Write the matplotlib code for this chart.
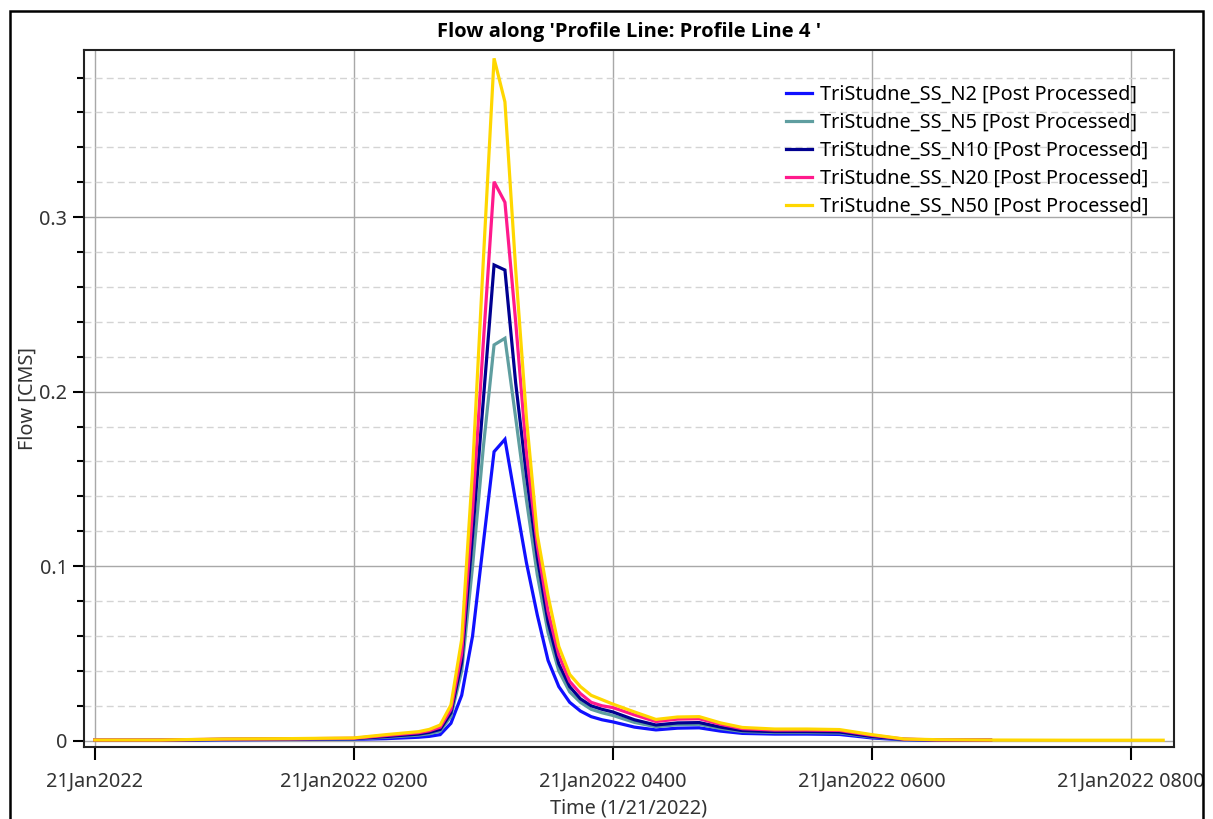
import numpy as np
import matplotlib
matplotlib.use('Agg')
import matplotlib.pyplot as plt
from matplotlib.patches import Rectangle
from matplotlib.ticker import MultipleLocator

plt.rcParams['font.family'] = ['Noto Sans', 'DejaVu Sans']

# time in hours after 21Jan2022 0000
hours = [0.0, 0.5, 1.0, 1.5, 2.0, 2.25, 2.5, 2.583, 2.667, 2.75,
         2.833, 2.917, 3.0, 3.083, 3.167, 3.25, 3.333, 3.417, 3.5, 3.583,
         3.667, 3.75, 3.833, 3.917, 4.0, 4.167, 4.333, 4.5, 4.667, 4.833,
         5.0, 5.25, 5.5, 5.75, 6.0, 6.25, 6.5, 6.917, 7.5, 8.25]

flow_n2 = [0.0002, 0.0002, 0.0005, 0.0007, 0.0008, 0.0012, 0.0020, 0.0025, 0.0035, 0.0100,
           0.026, 0.060, 0.113, 0.1656, 0.1727, 0.137, 0.102, 0.072, 0.046, 0.031,
           0.022, 0.017, 0.0138, 0.012, 0.0108, 0.0078, 0.0062, 0.0072, 0.0074, 0.0055,
           0.0042, 0.0038, 0.0038, 0.0036, 0.0016, 0.0005, 0.0003, 0.0002, np.nan, np.nan]
flow_n5 = [0.0003, 0.0003, 0.0007, 0.0009, 0.0010, 0.0020, 0.0032, 0.0040, 0.0055, 0.0140,
           0.040, 0.100, 0.168, 0.2268, 0.2306, 0.185, 0.138, 0.095, 0.062, 0.040,
           0.028, 0.022, 0.018, 0.016, 0.0145, 0.0105, 0.0080, 0.0092, 0.0094, 0.0070,
           0.0053, 0.0047, 0.0047, 0.0045, 0.0021, 0.0007, 0.0004, 0.0003, np.nan, np.nan]
flow_n10 = [0.0003, 0.0003, 0.0008, 0.0010, 0.0012, 0.0024, 0.0038, 0.0048, 0.0065, 0.0160,
            0.045, 0.118, 0.195, 0.2726, 0.2697, 0.205, 0.152, 0.105, 0.068, 0.044,
            0.031, 0.024, 0.020, 0.018, 0.0165, 0.0120, 0.0090, 0.0102, 0.0104, 0.0078,
            0.0058, 0.0052, 0.0052, 0.0050, 0.0024, 0.0008, 0.0004, 0.0003, np.nan, np.nan]
flow_n20 = [0.0004, 0.0004, 0.0009, 0.0011, 0.0014, 0.0030, 0.0046, 0.0057, 0.0078, 0.0180,
            0.050, 0.132, 0.228, 0.3203, 0.3085, 0.240, 0.165, 0.112, 0.074, 0.049,
            0.034, 0.027, 0.022, 0.020, 0.019, 0.0148, 0.0110, 0.0124, 0.0126, 0.0094,
            0.0069, 0.0061, 0.0061, 0.0059, 0.0031, 0.0009, 0.0005, 0.0004, np.nan, np.nan]
flow_n50 = [0.0004, 0.0004, 0.0010, 0.0012, 0.0016, 0.0035, 0.0052, 0.0065, 0.0090, 0.0205,
            0.058, 0.155, 0.275, 0.391, 0.366, 0.270, 0.185, 0.118, 0.083, 0.054,
            0.038, 0.031, 0.026, 0.0235, 0.021, 0.0165, 0.0122, 0.0136, 0.0138, 0.0102,
            0.0076, 0.0067, 0.0067, 0.0064, 0.0035, 0.0010, 0.0006, 0.0004, 0.0003, 0.0003]

names = ['TriStudne_SS_N2 [Post Processed]', 'TriStudne_SS_N5 [Post Processed]',
         'TriStudne_SS_N10 [Post Processed]', 'TriStudne_SS_N20 [Post Processed]',
         'TriStudne_SS_N50 [Post Processed]']
colors = ['#1010ff', '#5f9ea0', '#000090', '#ff1a8c', '#ffd700']

xtick_pos = [0, 2, 4, 6, 8]
xtick_labels = ['21Jan2022', '21Jan2022 0200', '21Jan2022 0400',
                '21Jan2022 0600', '21Jan2022 0800']

fs = 14.3

fig = plt.figure(figsize=(12.13, 8.19), dpi=100)
ax = fig.add_axes([0.0693, 0.0879, 0.8986, 0.8511])

series = [flow_n2, flow_n5, flow_n10, flow_n20, flow_n50]
for s, c, n in zip(series, colors, names):
    ax.plot(hours, s, color=c, lw=2.3, label=n, solid_joinstyle='miter')

ax.set_xlim(-0.083, 8.334)
ax.set_ylim(-0.0036, 0.3958)

ax.set_xticks(xtick_pos)
ax.set_xticklabels(xtick_labels, fontsize=fs, color='#333333')
ax.yaxis.set_major_locator(MultipleLocator(0.1))
ax.yaxis.set_minor_locator(MultipleLocator(0.02))
ax.set_yticks([0, 0.1, 0.2, 0.3])
ax.set_yticklabels(['0', '0.1', '0.2', '0.3'], fontsize=fs, color='#333333')

ax.grid(True, which='major', color='#a8a8a8', lw=1.0)
ax.grid(True, which='minor', axis='y', color='#d4d4d4', lw=1.0, ls=(0, (5, 3)))
ax.set_axisbelow(True)

ax.tick_params(axis='x', which='major', length=9, width=1.5, pad=9)
ax.tick_params(axis='y', which='major', length=8, width=1.5, pad=4)
ax.tick_params(axis='y', which='minor', length=5, width=1.5)
for sp in ax.spines.values():
    sp.set_linewidth(1.5)
    sp.set_color('#222222')

ax.set_xlabel('Time (1/21/2022)', fontsize=fs, color='#333333', labelpad=5)
ax.set_ylabel('Flow [CMS]', fontsize=fs, color='#333333', labelpad=1)
ax.set_title("Flow along 'Profile Line: Profile Line 4 '", fontsize=14.5,
             fontweight='bold', family=['Open Sans', 'Liberation Sans', 'DejaVu Sans'],
             pad=9)

ax.legend(loc='upper left', bbox_to_anchor=(0.644, 0.95), frameon=False,
          fontsize=fs, handlelength=1.3, handletextpad=0.4, labelspacing=0.4,
          borderpad=0, borderaxespad=0)

fig.patches.append(Rectangle((10 / 1213, -0.01), 1193 / 1213, 1.01 - 11 / 819,
                             transform=fig.transFigure, fill=False,
                             edgecolor='black', lw=1.8))

fig.savefig('out.png', dpi=100)
